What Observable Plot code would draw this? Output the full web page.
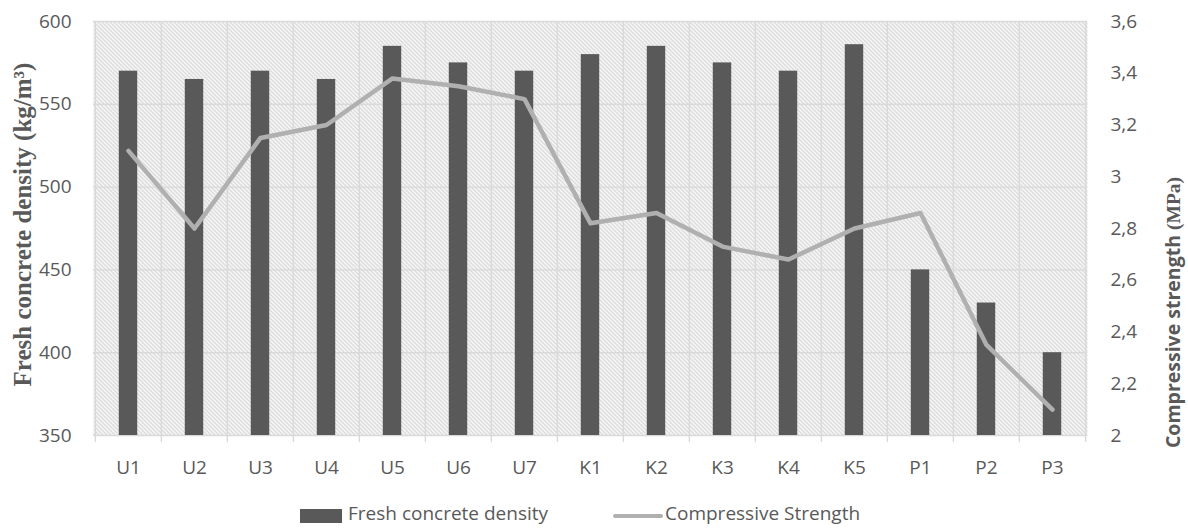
<!DOCTYPE html>
<html>
<head>
<meta charset="utf-8">
<script src="https://cdn.jsdelivr.net/npm/d3@7"></script>
<script src="https://cdn.jsdelivr.net/npm/@observablehq/plot@0.6"></script>
<style>
  html, body { margin: 0; padding: 0; background: #fff; }
  #wrap { position: relative; width: 1188px; height: 529px; font-family: "Open Sans", sans-serif; color: #595959; }
  #legend { position: relative; height: 39px; }
  .lg { position: absolute; font-size: 19px; line-height: 20px; white-space: nowrap; }
</style>
</head>
<body>
<div id="wrap">
  <div id="chart"></div>
  <div id="legend"></div>
</div>
<script>
const categories = ["U1","U2","U3","U4","U5","U6","U7","K1","K2","K3","K4","K5","P1","P2","P3"];
const density = [570, 565, 570, 565, 585, 575, 570, 580, 585, 575, 570, 586, 450, 430, 400];
const strength = [3.10, 2.80, 3.15, 3.20, 3.38, 3.35, 3.30, 2.82, 2.86, 2.73, 2.68, 2.80, 2.86, 2.35, 2.10];
const densityTicks = [350, 400, 450, 500, 550, 600];
const strengthTicks = [2, 2.2, 2.4, 2.6, 2.8, 3, 3.2, 3.4, 3.6];
const densityTitle = "Fresh concrete density (kg/m³)";
const strengthTitleSans = "Compressive strength ";
const strengthTitleSerif = "(MPa)";
const legendLabels = ["Fresh concrete density", "Compressive Strength"];

const W = 1188, H = 490, mL = 93, mR = 101, mT = 21, mB = 55;
const step = (W - mL - mR) / categories.length;
const barW = 18.7;
const inset = (step - barW) / 2;

// map strength domain [2, 3.6] onto density domain [350, 600]
const sDom = [2, 3.6], dDom = [350, 600];
const s2d = s => dDom[0] + (s - sDom[0]) * (dDom[1] - dDom[0]) / (sDom[1] - sDom[0]);
const d2s = d => sDom[0] + (d - dDom[0]) * (sDom[1] - sDom[0]) / (dDom[1] - dDom[0]);

const table = categories.map((c, i) => ({cat: c, density: density[i], strength: strength[i], s2: s2d(strength[i])}));

const grid = "#d9d9d9";
const chart = Plot.plot({
  width: W, height: H,
  marginLeft: mL, marginRight: mR, marginTop: mT, marginBottom: mB,
  style: {fontFamily: "'Open Sans', sans-serif", fontSize: "19px", color: "#595959", background: "#fff"},
  x: {type: "band", domain: categories, padding: 0},
  y: {domain: dDom},
  marks: [
    Plot.frame({fill: "url(#hatch)", stroke: null}),
    Plot.gridY(densityTicks, {stroke: grid, strokeOpacity: 1, strokeWidth: 1.4}),
    Plot.gridX(categories, {stroke: grid, strokeOpacity: 1, strokeWidth: 1.4, dx: -step / 2}),
    Plot.gridX([categories[categories.length - 1]], {stroke: grid, strokeOpacity: 1, strokeWidth: 1.4, dx: step / 2}),
    Plot.axisX(categories, {tickSize: 7, tickFormat: () => "", stroke: grid, strokeWidth: 1.4, dx: -step / 2, label: null}),
    Plot.axisX([categories[categories.length - 1]], {tickSize: 7, tickFormat: () => "", stroke: grid, strokeWidth: 1.4, dx: step / 2, label: null}),
    Plot.axisX({tickSize: 0, tickPadding: 25, label: null, fill: "#595959"}),
    Plot.axisY(densityTicks, {anchor: "left", tickSize: 0, tickPadding: 22, label: null, fill: "#595959"}),
    Plot.axisY(strengthTicks.map(s2d), {anchor: "right", tickSize: 0, tickPadding: 23, label: null, fill: "#595959",
      tickFormat: d => String(Math.round(d2s(d) * 10) / 10).replace(".", ",")}),
    Plot.barY(table, {x: "cat", y1: dDom[0], y2: "density", fill: "#595959", insetLeft: inset, insetRight: inset}),
    Plot.line(table, {x: "cat", y: "s2", stroke: "#b0b0b0", strokeWidth: 4.5, strokeLinecap: "round", strokeLinejoin: "round"}),
    Plot.text([densityTitle], {frameAnchor: "left", rotate: -90, dx: -71, dy: -4, fill: "#595959", textAnchor: "middle",
      fontFamily: "'Liberation Serif', 'DejaVu Serif', serif", fontWeight: "bold", fontSize: 25, lineAnchor: "middle"}),
    Plot.text([strengthTitleSans + strengthTitleSerif], {frameAnchor: "right", rotate: -90, dx: 86, dy: 84, fill: "#595959", textAnchor: "middle",
      fontFamily: "'Open Sans', sans-serif", fontWeight: "bold", fontSize: 19.5, lineAnchor: "middle", className: "rtitle"})
  ]
});

// hatch pattern for the plot area background
const svg = d3.select(chart);
const defs = svg.insert("defs", ":first-child");
const pat = defs.append("pattern").attr("id", "hatch").attr("patternUnits", "userSpaceOnUse")
  .attr("width", 4).attr("height", 4);
pat.append("rect").attr("width", 4).attr("height", 4).attr("fill", "#fff");
pat.append("path").attr("d", "M-1,-1 L5,5 M-1,3 L1,5 M3,-1 L5,1").attr("stroke", "#c9c9c9").attr("stroke-width", 1.2);

// mixed-font right title
const rt = svg.select(".rtitle text");
rt.text(null);
rt.append("tspan").text(strengthTitleSans);
rt.append("tspan").attr("font-family", "'Liberation Serif', serif").text(strengthTitleSerif);

document.getElementById("chart").appendChild(chart);

// legend
const lg = d3.select("#legend");
lg.append("div").style("position", "absolute").style("left", "300px").style("top", "19px")
  .style("width", "42px").style("height", "14px").style("background", "#595959");
lg.append("div").attr("class", "lg").style("left", "348px").style("top", "13px").text(legendLabels[0]);
lg.append("div").style("position", "absolute").style("left", "613px").style("top", "24px")
  .style("width", "50px").style("height", "4px").style("border-radius", "2px").style("background", "#b0b0b0");
lg.append("div").attr("class", "lg").style("left", "665px").style("top", "13px").text(legendLabels[1]);
</script>
</body>
</html>
